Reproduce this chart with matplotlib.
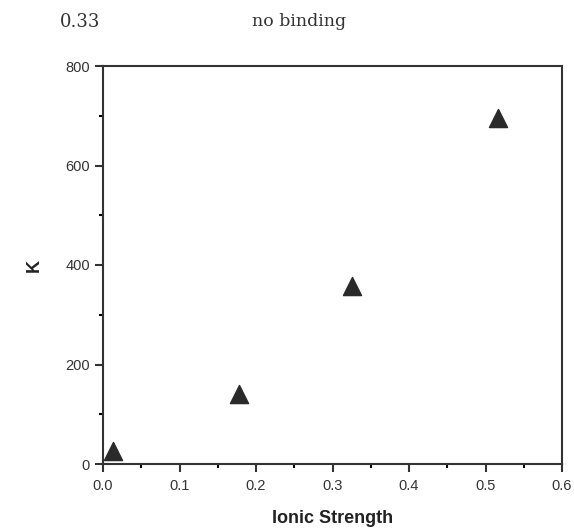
import matplotlib
matplotlib.use("Agg")
import matplotlib.pyplot as plt
from matplotlib.ticker import MultipleLocator

plt.rcParams['font.family'] = ['Liberation Sans', 'DejaVu Sans']

ionic_strength = [0.013, 0.178, 0.325, 0.516]
k_values = [27, 140, 357, 695]
x_ticks = [0.0, 0.1, 0.2, 0.3, 0.4, 0.5, 0.6]
y_ticks = [0, 200, 400, 600, 800]

fig = plt.figure(figsize=(5.74, 5.30), dpi=100)
ax = fig.add_axes([103/574, 66/530, (562-103)/574, (464-66)/530])
ax.scatter(ionic_strength, k_values, marker='^', s=170, color='#2a2a2a', zorder=3)
ax.set_xlim(0, 0.6)
ax.set_ylim(0, 800)
ax.set_xticks(x_ticks)
ax.set_xticklabels([f"{t:.1f}" for t in x_ticks])
ax.set_yticks(y_ticks)
ax.xaxis.set_minor_locator(MultipleLocator(0.05))
ax.yaxis.set_minor_locator(MultipleLocator(100))
ax.tick_params(direction='out', length=6, width=1.5, labelsize=10.5, colors='#333333')
ax.tick_params(axis='x', pad=5)
ax.tick_params(which='minor', direction='out', length=3, width=1.5)
for s in ax.spines.values():
    s.set_linewidth(1.5)
    s.set_color('#333333')
ax.set_xlabel("Ionic Strength", fontsize=13, fontweight='bold', labelpad=12, color='#222222')
ax.set_ylabel("K", fontsize=13, fontweight='bold', labelpad=16, rotation=90, color='#222222')
fig.text(60/574, 1 - 22/530, "0.33", fontsize=13, family='DejaVu Serif', va='center', ha='left', color='#333333')
fig.text(299/574, 1 - 22/530, "no binding", fontsize=12.5, family='DejaVu Serif', va='center', ha='center', color='#333333')
fig.savefig("out.png", dpi=100)
